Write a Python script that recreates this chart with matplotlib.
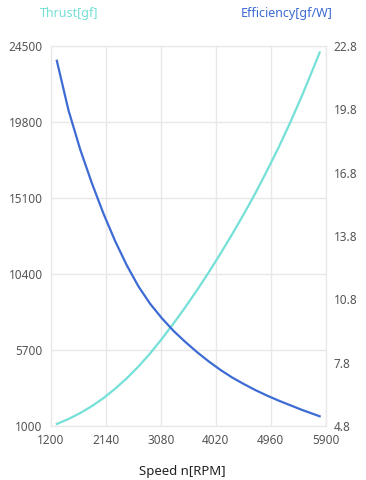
import matplotlib.pyplot as plt

plt.rcParams['font.family'] = ['Noto Sans', 'DejaVu Sans']

speed = [1300, 1500, 1700, 1900, 2100, 2300, 2500, 2700, 2900, 3100, 3300, 3500,
         3700, 3900, 4100, 4300, 4500, 4700, 4900, 5100, 5300, 5500, 5700, 5800]
thrust = [1128, 1434, 1800, 2230, 2730, 3310, 3960, 4690, 5500, 6400, 7350, 8350,
          9400, 10500, 11650, 12850, 14100, 15400, 16800, 18250, 19800, 21450, 23200, 24100]
efficiency = [22.1, 19.75, 17.9, 16.3, 14.85, 13.55, 12.4, 11.4, 10.58, 9.9, 9.3, 8.78,
              8.3, 7.86, 7.46, 7.1, 6.79, 6.5, 6.24, 6.0, 5.78, 5.56, 5.36, 5.26]

x_ticks = [1200, 2140, 3080, 4020, 4960, 5900]
thrust_ticks = [1000, 5700, 10400, 15100, 19800, 24500]
eff_ticks = [4.8, 7.8, 10.8, 13.8, 16.8, 19.8, 22.8]

cyan = '#74e0d7'
blue = '#3d6bd4'
grid_c = '#e8e8e8'
tick_c = '#555555'

fig = plt.figure(figsize=(3.66, 4.8), dpi=100)
ax = fig.add_axes([51 / 366, 1 - 426 / 480, 274.5 / 366, 380 / 480])
ax2 = ax.twinx()

ax.plot(speed, thrust, color=cyan, lw=1.6)
ax2.plot(speed, efficiency, color=blue, lw=1.6)

ax.set_xlim(1200, 5900)
ax.set_ylim(1000, 24500)
ax2.set_ylim(4.8, 22.8)
ax.set_xticks(x_ticks)
ax.set_yticks(thrust_ticks)
ax2.set_yticks(eff_ticks)
ax.set_xticklabels([str(v) for v in x_ticks])
ax.set_yticklabels([str(v) for v in thrust_ticks])
ax2.set_yticklabels(['%.1f' % v for v in eff_ticks])

ax.grid(True, color=grid_c, lw=1)
ax.set_axisbelow(True)
for a in (ax, ax2):
    for s in a.spines.values():
        s.set_color(grid_c)
    a.tick_params(length=0, labelsize=8.5, colors=tick_c, pad=6)

fig.text(182 / 366, 1 - 471 / 480, 'Speed n[RPM]', fontsize=9.5, color='#222222',
         ha='center', va='center')

fig.text(69 / 366, 1 - 13 / 480, 'Thrust[gf]', color=cyan, fontsize=9,
         ha='center', va='center')
fig.text(287 / 366, 1 - 13 / 480, 'Efficiency[gf/W]', color=blue, fontsize=9,
         ha='center', va='center')

fig.savefig('out.png', dpi=100)
